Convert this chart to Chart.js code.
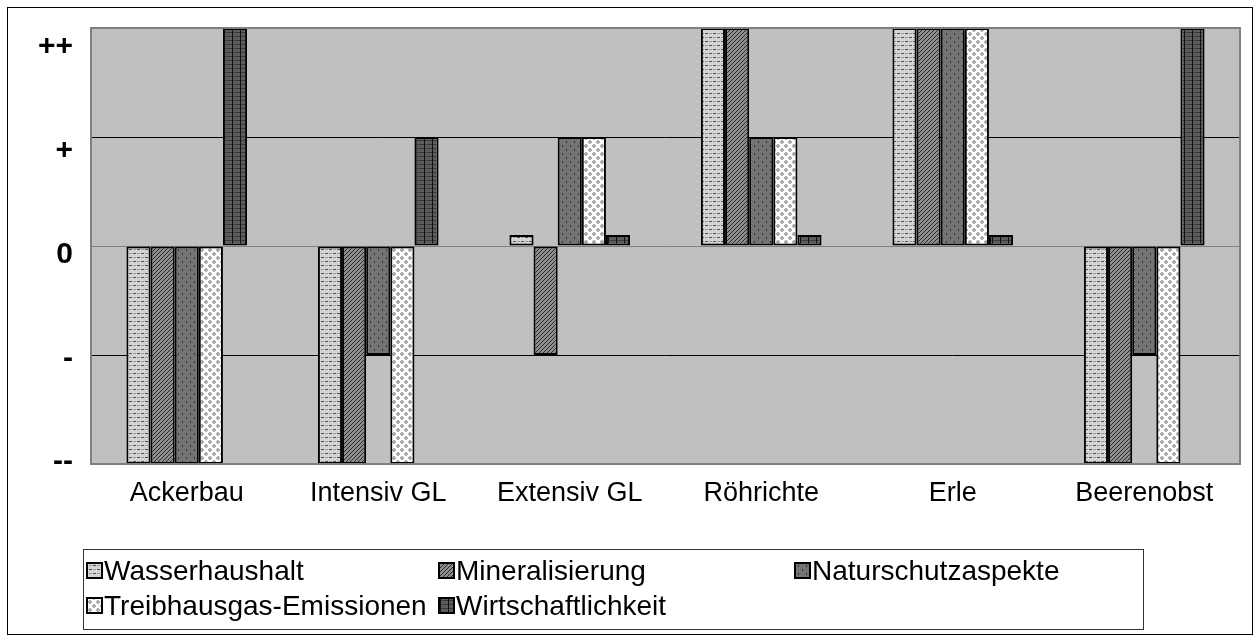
<!DOCTYPE html>
<html>
<head>
<meta charset="utf-8">
<script src="https://cdn.jsdelivr.net/npm/chart.js"></script>
<style>
  body { margin: 0; background: #fff; }
</style>
</head>
<body>
<canvas id="myChart" width="1260" height="641"></canvas>
<script>
var categories = ["Ackerbau", "Intensiv GL", "Extensiv GL", "Röhrichte", "Erle", "Beerenobst"];
var seriesNames = ["Wasserhaushalt", "Mineralisierung", "Naturschutzaspekte", "Treibhausgas-Emissionen", "Wirtschaftlichkeit"];
var wasserhaushalt = [-2, -2, 0.1, 2, 2, -2];
var mineralisierung = [-2, -2, -1, 2, 2, -2];
var naturschutz = [-2, -1, 1, 1, 2, -1];
var treibhausgas = [-2, -2, 1, 1, 2, -2];
var wirtschaftlichkeit = [2, 1, 0.1, 0.1, 0.1, 2];
var yTickLabels = ["--", "-", "0", "+", "++"];

// little tiles to imitate the old office fill patterns
function makePattern(size, draw) {
  var c = document.createElement("canvas")
  c.width = size
  c.height = size
  var g = c.getContext("2d")
  draw(g)
  return document.getElementById("myChart").getContext("2d").createPattern(c, "repeat")
}

var patWasser = makePattern(8, function (g) {
  g.fillStyle = "#d4d4d4"; g.fillRect(0, 0, 8, 8)
  g.fillStyle = "#505050"; g.fillRect(1, 1, 3, 1); g.fillRect(5, 5, 3, 1)
  g.fillStyle = "#999"; g.fillRect(5, 1, 3, 1); g.fillRect(1, 5, 3, 1)
})
var patMineral = makePattern(4, function (g) {
  g.fillStyle = "#8e8e8e"; g.fillRect(0, 0, 4, 4)
  g.fillStyle = "#2a2a2a"
  g.fillRect(3, 0, 1, 1); g.fillRect(2, 1, 1, 1); g.fillRect(1, 2, 1, 1); g.fillRect(0, 3, 1, 1)
})
var patNatur = makePattern(8, function (g) {
  g.fillStyle = "#747474"; g.fillRect(0, 0, 8, 8)
  g.fillStyle = "#333"; g.fillRect(2, 1, 1, 2); g.fillRect(6, 5, 1, 2)
})
var patTreib = makePattern(8, function (g) {
  g.fillStyle = "#fff"; g.fillRect(0, 0, 8, 8)
  g.fillStyle = "#adadad"
  g.fillRect(0, 1, 4, 2); g.fillRect(1, 0, 2, 4)
  g.fillRect(4, 5, 4, 2); g.fillRect(5, 4, 2, 4)
})
var patWirt = makePattern(8, function (g) {
  g.fillStyle = "#5c5c5c"; g.fillRect(0, 0, 8, 8)
  g.fillStyle = "#3a3a3a"; g.fillRect(0, 0, 8, 1); g.fillRect(0, 4, 8, 1)
  g.fillStyle = "#111"; g.fillRect(0, 0, 1, 8)
})

var seriesValues = [wasserhaushalt, mineralisierung, naturschutz, treibhausgas, wirtschaftlichkeit];
var fills = [patWasser, patMineral, patNatur, patTreib, patWirt];
var fontFamily = "'Liberation Sans', Arial, sans-serif";

var plotFrame = {
  id: "plotFrame",
  beforeDraw: function (chart) {
    var ctx = chart.ctx, a = chart.chartArea
    ctx.save()
    ctx.fillStyle = "#fff"
    ctx.fillRect(0, 0, chart.width, chart.height)
    ctx.strokeStyle = "#000"
    ctx.lineWidth = 1
    ctx.strokeRect(7.5, 7.5, 1245, 627)
    ctx.fillStyle = "#c0c0c0"
    ctx.fillRect(a.left, a.top, a.right - a.left, a.bottom - a.top)
    ctx.restore()
  },
  afterDatasetsDraw: function (chart) {
    var ctx = chart.ctx, a = chart.chartArea
    ctx.save()
    ctx.strokeStyle = "#808080"
    ctx.lineWidth = 2
    ctx.strokeRect(a.left, a.top, a.right - a.left, a.bottom - a.top)
    ctx.restore()
  },
  afterDraw: function (chart) {
    // legend box, three columns like the original
    var ctx = chart.ctx
    ctx.save()
    ctx.strokeStyle = "#333"
    ctx.lineWidth = 1
    ctx.strokeRect(83.5, 549.5, 1060, 80)
    var cols = [87, 439, 795], rows = [571, 606]
    ctx.font = "28px " + fontFamily
    ctx.textBaseline = "middle"
    seriesNames.forEach(function (name, i) {
      var x = cols[i % 3], y = rows[Math.floor(i / 3)]
      ctx.fillStyle = fills[i]
      ctx.fillRect(x, y - 8, 15, 15)
      ctx.strokeStyle = "#000"
      ctx.lineWidth = 2
      ctx.strokeRect(x, y - 8, 15, 15)
      ctx.fillStyle = "#000"
      ctx.fillText(name, x + 17, y + 1)
    })
    ctx.restore()
  }
}

new Chart("myChart", {
  type: "bar",
  data: {
    labels: categories,
    datasets: seriesNames.map(function (name, i) {
      return {
        label: name,
        data: seriesValues[i],
        backgroundColor: fills[i],
        borderColor: "#000",
        borderWidth: 2,
        borderSkipped: false,
        barPercentage: 1,
        categoryPercentage: 0.63,
        yAxisID: "y"
      }
    })
  },
  options: {
    responsive: false,
    animation: false,
    layout: { padding: { left: 0, right: 20, top: 28, bottom: 127 } },
    plugins: {
      legend: { display: false },
      tooltip: { enabled: false }
    },
    scales: {
      x: {
        grid: { display: false, drawTicks: false },
        border: { display: false },
        ticks: {
          color: "#000",
          padding: 13,
          font: { family: fontFamily, size: 27 }
        },
        afterFit: function (s) { s.height = 50; s.paddingLeft = 0; s.paddingRight = 0 }
      },
      y: {
        min: -2,
        max: 2,
        border: { display: false },
        grid: {
          drawTicks: false,
          color: function (c) { return c.tick.value === 0 ? "#808080" : "#000" },
          lineWidth: 1
        },
        ticks: { stepSize: 1, display: false },
        afterFit: function (s) { s.width = 0; s.paddingTop = 0; s.paddingBottom = 0 }
      },
      // the labels in the original sit a bit off the grid lines
      yLabels: {
        position: "left",
        min: -2.0193,
        max: 2.183,
        border: { display: false },
        grid: { display: false, drawTicks: false },
        ticks: {
          stepSize: 1,
          includeBounds: false,
          autoSkip: false,
          color: "#000",
          padding: 18,
          font: { family: fontFamily, size: 30, weight: "bold" },
          callback: function (v) { return Number.isInteger(v) ? yTickLabels[v + 2] : null }
        },
        afterFit: function (s) { s.width = 91; s.paddingTop = 0; s.paddingBottom = 0 }
      }
    }
  },
  plugins: [plotFrame]
});
</script>
</body>
</html>
